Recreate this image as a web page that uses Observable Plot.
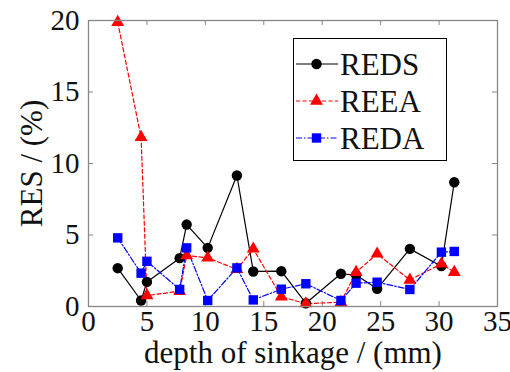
<!DOCTYPE html>
<html>
<head>
<meta charset="utf-8">
<script src="https://cdn.jsdelivr.net/npm/d3@7"></script>
<script src="https://cdn.jsdelivr.net/npm/@observablehq/plot@0.6"></script>
<style>
  html, body { margin: 0; padding: 0; background: #fff; }
  #wrap { position: relative; width: 510px; height: 372px; }
  #legend { position: absolute; left: 293px; top: 38px; width: 152px; height: 121px;
    border: 1.3px solid #000; background: #fff; font-family: "Liberation Serif", serif; font-size: 31px; color: #111; }
  #legend .row { position: absolute; left: 0; height: 36px; display: flex; align-items: center; }
  #legend svg { display: block; }
  #legend span { margin-left: 1px; line-height: 1; }
</style>
</head>
<body>
<div id="wrap"><div id="legend"></div></div>
<script>
const depth = [2.5, 4.5, 5.0, 7.8, 8.4, 10.2, 12.7, 14.1, 16.5, 18.6, 21.6, 22.9, 24.7, 27.5, 30.2, 31.3];
const reds = [2.68, 0.42, 1.72, 3.38, 5.73, 4.10, 9.16, 2.45, 2.47, 0.23, 2.29, 2.2, 1.24, 4.03, 2.82, 8.69];
const reea = [19.88, 11.84, 0.77, 1.07, 3.57, 3.40, 2.6, 4.03, 0.68, 0.2, 0.3, 2.40, 3.68, 1.86, 2.98, 2.40];
const reda = [4.80, 2.33, 3.16, 1.19, 4.10, 0.42, 2.70, 0.46, 1.21, 1.59, 0.42, 1.63, 1.70, 1.19, 3.80, 3.85];
const seriesNames = ["REDS", "REEA", "REDA"];
const xTicks = [0, 5, 10, 15, 20, 25, 30, 35];
const yTicks = [0, 5, 10, 15, 20];

const styles = {
  REDS: {color: "#000000", symbol: "circle", r: 5.2, dash: null},
  REEA: {color: "#ff0000", symbol: "triangle", r: 4.8, dash: "4,2.5"},
  REDA: {color: "#0000ff", symbol: "square", r: 5.3, dash: "6,2,1.5,2"}
};
const valuesBy = {REDS: reds, REEA: reea, REDA: reda};
const rows = seriesNames.flatMap(s => depth.map((d, i) => ({series: s, depth: d, value: valuesBy[s][i]})));

const W = 510, H = 372, mL = 88, mR = 13, mT = 20, mB = 66;
const ph = H - mT - mB, pw = W - mL - mR, tk = 5;
const font = "Liberation Serif, serif";

const marks = [];
for (const s of seriesNames) {
  const st = styles[s];
  const data = rows.filter(r => r.series === s);
  marks.push(Plot.line(data, {x: "depth", y: "value", stroke: st.color, strokeWidth: 1.2, strokeDasharray: st.dash}));
}
for (const s of seriesNames) {
  const st = styles[s];
  const data = rows.filter(r => r.series === s);
  marks.push(Plot.dot(data, {x: "depth", y: "value", symbol: () => st.symbol, fill: st.color, stroke: "none", r: st.r}));
}

const chart = Plot.plot({
  width: W, height: H,
  marginLeft: mL, marginRight: mR, marginTop: mT, marginBottom: mB,
  style: {fontFamily: font, fontSize: "29px", color: "#111", background: "#fff", overflow: "visible"},
  symbol: {domain: ["circle", "triangle", "square"], range: ["circle", "triangle", "square"]},
  x: {domain: [0, 35], ticks: xTicks},
  y: {domain: [0, 20], ticks: yTicks},
  marks: [
    Plot.axisX(xTicks, {tickSize: 0, tickPadding: 4, fontSize: 29, label: null}),
    Plot.axisX({ticks: [], tickSize: 0, fontSize: 31, label: "depth of sinkage / (mm)", labelAnchor: "center", labelArrow: "none", labelOffset: 56}),
    Plot.axisY(yTicks, {tickSize: 0, tickPadding: 9, fontSize: 29, label: null}),
    Plot.axisY({ticks: [], tickSize: 0, fontSize: 31, label: "RES / (%)", labelAnchor: "center", labelArrow: "none", labelOffset: 69}),
    Plot.ruleX(xTicks.slice(1, -1), {x: d => d, stroke: "#888", insetTop: ph - tk}),
    Plot.ruleX(xTicks.slice(1, -1), {x: d => d, stroke: "#888", insetBottom: ph - tk}),
    Plot.ruleY(yTicks.slice(1, -1), {y: d => d, stroke: "#888", insetRight: pw - tk}),
    Plot.ruleY(yTicks.slice(1, -1), {y: d => d, stroke: "#888", insetLeft: pw - tk}),
    ...marks,
    Plot.frame({stroke: "#888", strokeWidth: 1.3})
  ]
});
document.getElementById("wrap").prepend(chart);

// legend
const legend = document.getElementById("legend");
seriesNames.forEach((s, i) => {
  const st = styles[s];
  const row = document.createElement("div");
  row.className = "row";
  row.style.top = (7 + i * 37) + "px";
  const w = 45, h = 36;
  const svg = d3.create("svg").attr("width", w).attr("height", h);
  svg.append("line").attr("x1", 2).attr("x2", w - 1).attr("y1", h / 2).attr("y2", h / 2)
    .attr("stroke", st.color).attr("stroke-width", 1.2).attr("stroke-dasharray", st.dash);
  const sym = {circle: d3.symbolCircle, triangle: d3.symbolTriangle, square: d3.symbolSquare}[st.symbol];
  svg.append("path").attr("transform", `translate(${w / 2},${h / 2})`)
    .attr("d", d3.symbol(sym, Math.PI * st.r * st.r)()).attr("fill", st.color);
  row.appendChild(svg.node());
  const span = document.createElement("span");
  span.textContent = s;
  row.appendChild(span);
  legend.appendChild(row);
});
</script>
</body>
</html>
